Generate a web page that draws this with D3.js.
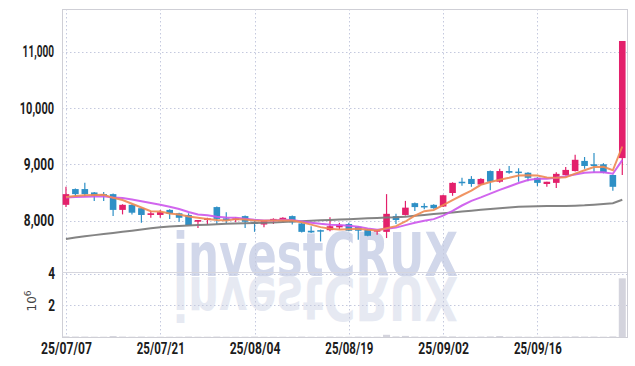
<!DOCTYPE html>
<html>
<head>
<meta charset="utf-8">
<script src="https://cdn.jsdelivr.net/npm/d3@7"></script>
<style>
  body { margin: 0; background: #fff; }
  svg text { font-family: Roboto, "DejaVu Sans Condensed", sans-serif; }
</style>
</head>
<body>
<div class="div-chart"></div>
<script>
// trading days shown (yy/mm/dd), 15 Aug is a holiday
const dates = [
  "25/07/07","25/07/08","25/07/09","25/07/10","25/07/11","25/07/14","25/07/15","25/07/16","25/07/17","25/07/18",
  "25/07/21","25/07/22","25/07/23","25/07/24","25/07/25","25/07/28","25/07/29","25/07/30","25/07/31","25/08/01",
  "25/08/04","25/08/05","25/08/06","25/08/07","25/08/08","25/08/11","25/08/12","25/08/13","25/08/14","25/08/18",
  "25/08/19","25/08/20","25/08/21","25/08/22","25/08/25","25/08/26","25/08/27","25/08/28","25/08/29","25/09/01",
  "25/09/02","25/09/03","25/09/04","25/09/05","25/09/08","25/09/09","25/09/10","25/09/11","25/09/12","25/09/15",
  "25/09/16","25/09/17","25/09/18","25/09/19","25/09/22","25/09/23","25/09/24","25/09/25","25/09/26","25/09/29"
];

const opens = [8280,8560,8560,8500,8470,8470,8190,8280,8220,8100, 8100,8190,8130,8100,7980,8010,8240,8040,8010,8080,
  7980,7930,8000,8010,8080,7950,7820,7830,7830,7880, 7940,7890,7840,7810,7800,8080,8100,8310,8260,8280,
  8250,8490,8690,8740,8640,8880,8690,8880,8870,8850, 8760,8650,8670,8810,8880,9060,9000,9000,8810,9110];
const highs = [8600,8570,8670,8510,8510,8480,8290,8290,8230,8170, 8190,8200,8140,8130,8010,8050,8250,8150,8060,8090,
  7990,8010,8040,8060,8090,7960,7900,7840,8060,7960, 7960,7900,7850,7840,8470,8120,8350,8320,8310,8290,
  8460,8680,8760,8790,8750,8890,8920,8970,8930,8860, 8770,8690,8860,8950,9170,9130,9200,9020,8820,11190];
const lows = [8240,8430,8430,8350,8350,8080,8110,8110,7960,8050, 8050,8030,7980,7920,7870,7920,7940,7950,7970,7870,
  7800,7880,7940,7980,7930,7790,7780,7630,7810,7850, 7810,7660,7720,7750,7690,7940,8090,8170,8200,8210,
  8240,8440,8620,8600,8630,8540,8670,8830,8690,8700, 8610,8600,8580,8800,8870,8920,8850,8840,8530,8810];
const closes = [8470,8470,8470,8440,8450,8190,8280,8140,8100,8130, 8150,8120,8050,7920,8010,8040,8030,8010,8040,7980,
  7940,8010,8030,8050,7970,7800,7790,7810,7900,7920, 7820,7820,7730,7830,8120,8010,8230,8240,8240,8220,
  8450,8670,8670,8650,8740,8690,8880,8850,8850,8760, 8670,8690,8830,8900,9080,8970,8970,8850,8600,11190];
// volume in millions of shares
const volumes = [0.04,0.03,0.03,0.02,0.02,0.06,0.03,0.02,0.03,0.02, 0.02,0.02,0.02,0.03,0.02,0.02,0.03,0.02,0.02,0.02,
  0.03,0.02,0.02,0.02,0.02,0.03,0.02,0.02,0.03,0.02, 0.02,0.03,0.02,0.02,0.14,0.04,0.07,0.03,0.02,0.02,
  0.04,0.04,0.02,0.02,0.03,0.04,0.06,0.02,0.03,0.02, 0.02,0.02,0.03,0.03,0.04,0.03,0.03,0.02,0.04,3.70];
// closes before the first visible day (estimated from where the averages start)
const priorCloses = [8380,8420,8390,8410,8400,8380,8420,8400,8430];
// 60 day average
const ma60 = [7675,7700,7722,7742,7762,7780,7800,7820,7840,7862, 7882,7895,7906,7914,7920,7928,7936,7942,7948,7953,
  7957,7962,7968,7975,7982,7990,7997,8004,8011,8018, 8025,8032,8040,8047,8053,8058,8070,8085,8100,8116,
  8130,8145,8160,8175,8192,8205,8218,8232,8245,8252, 8256,8257,8258,8260,8265,8272,8283,8295,8307,8370];

const priceTicks = [8000, 9000, 10000, 11000];
const volTicks = [2, 4];
const dateTicks = [0, 10, 20, 30, 40, 50];

const width = 635, height = 366;
const plotLeft = 62, plotRight = 627, plotTop = 9, plotMid = 272, plotBottom = 337;

const allCloses = priorCloses.concat(closes);
function movingAvg(n) {
  return closes.map((c, i) => d3.mean(allCloses.slice(i + priorCloses.length - n + 1, i + priorCloses.length + 1)));
}
const ma5 = movingAvg(5), ma10 = movingAvg(10);

const svg = d3.select(".div-chart").append("svg")
  .attr("width", width).attr("height", height)
  .attr("viewBox", `0 0 ${width} ${height}`);

const x = d3.scaleLinear().domain([-0.42, 59.5]).range([plotLeft, plotRight]);
const y = d3.scaleLinear().domain([7087, 11758]).range([plotMid, plotTop]);
const yVol = d3.scaleLinear().domain([0, 4.1]).range([plotBottom, plotMid]);

// watermark + its reflection
const wm = svg.append("g").attr("id", "watermark");
wm.append("text").attr("x", 173).attr("y", 276)
  .attr("textLength", 285).attr("lengthAdjust", "spacingAndGlyphs")
  .style("font-family", "'DejaVu Sans Condensed', sans-serif")
  .style("font-weight", "bold").style("font-size", "60px")
  .attr("fill", "#d1d7ea").text("investCRUX");
wm.append("text").attr("x", 173).attr("y", 276)
  .attr("transform", "translate(0,553) scale(1,-1)")
  .attr("textLength", 285).attr("lengthAdjust", "spacingAndGlyphs")
  .style("font-family", "'DejaVu Sans Condensed', sans-serif")
  .style("font-weight", "bold").style("font-size", "60px")
  .attr("fill", "#e6e9f2").text("investCRUX");

// grid
const grid = svg.append("g").attr("stroke", "#c4c9de").attr("stroke-dasharray", "1.5,2.5").attr("stroke-width", 1);
grid.selectAll(".gx").data(dateTicks).join("line")
  .attr("x1", d => Math.round(x(d)) + 0.5).attr("x2", d => Math.round(x(d)) + 0.5)
  .attr("y1", plotTop).attr("y2", plotBottom);
grid.selectAll(".gy").data(priceTicks).join("line")
  .attr("x1", plotLeft).attr("x2", plotRight)
  .attr("y1", d => Math.round(y(d)) + 0.5).attr("y2", d => Math.round(y(d)) + 0.5);
grid.selectAll(".gv").data(volTicks).join("line")
  .attr("x1", plotLeft).attr("x2", plotRight)
  .attr("y1", d => Math.round(yVol(d)) + 0.5).attr("y2", d => Math.round(yVol(d)) + 0.5);

// frame
const frame = svg.append("g").attr("fill", "none").attr("stroke", "#cfcfd6");
frame.append("rect").attr("x", plotLeft + 0.5).attr("y", plotTop + 0.5)
  .attr("width", plotRight - plotLeft).attr("height", plotBottom - plotTop);
frame.append("line").attr("x1", plotLeft).attr("x2", plotRight).attr("y1", plotMid + 0.5).attr("y2", plotMid + 0.5)
  .attr("stroke", "#d6d6de");

// volume bars
const barW = 7;
svg.append("g").selectAll("rect").data(volumes).join("rect")
  .attr("x", (d, i) => x(i) - barW / 2)
  .attr("y", d => yVol(d))
  .attr("width", barW)
  .attr("height", d => plotBottom - yVol(d))
  .attr("fill", "#d4d4dd");

// candles
const up = "#e3206b", down = "#2e90c6";
const candle = svg.append("g").selectAll("g").data(closes).join("g");
candle.append("line")
  .attr("x1", (d, i) => x(i)).attr("x2", (d, i) => x(i))
  .attr("y1", (d, i) => y(highs[i])).attr("y2", (d, i) => y(lows[i]))
  .attr("stroke", (d, i) => d >= opens[i] ? up : down).attr("stroke-width", 1.2);
candle.append("rect")
  .attr("x", (d, i) => x(i) - 3.3)
  .attr("y", (d, i) => y(Math.max(d, opens[i])))
  .attr("width", 6.6)
  .attr("height", (d, i) => Math.max(1.5, Math.abs(y(d) - y(opens[i]))))
  .attr("fill", (d, i) => d >= opens[i] ? up : down);

// moving averages
const line = d3.line().x((d, i) => x(i)).y(d => y(d));
svg.append("path").datum(ma60).attr("d", line).attr("fill", "none")
  .attr("stroke", "#7d7d7d").attr("stroke-width", 2).attr("opacity", 0.95);
svg.append("path").datum(ma10).attr("d", line).attr("fill", "none")
  .attr("stroke", "#cc55ec").attr("stroke-width", 2).attr("opacity", 0.9);
svg.append("path").datum(ma5).attr("d", line).attr("fill", "none")
  .attr("stroke", "#ee8a52").attr("stroke-width", 2).attr("opacity", 0.9);

// axes: tall narrow bold digits, squeezed to the reference widths
const charW = { "1": 4, ",": 3, "/": 5 };
const textW = s => d3.sum(s.split(""), ch => charW[ch] || 6.8);
const axisStyle = (g, size) => {
  g.select(".domain").remove();
  g.selectAll("text").attr("fill", "#1c1c1c")
    .style("font-weight", "bold").style("font-size", size + "px")
    .attr("lengthAdjust", "spacingAndGlyphs")
    .attr("textLength", function () { return textW(this.textContent); });
};
svg.append("g").attr("transform", `translate(${plotLeft},0)`)
  .call(d3.axisLeft(y).tickValues(priceTicks).tickFormat(d3.format(",")).tickSize(0).tickPadding(8))
  .call(axisStyle, 16);
svg.append("g").attr("transform", `translate(${plotLeft},0)`)
  .call(d3.axisLeft(yVol).tickValues(volTicks).tickFormat(d3.format("d")).tickSize(0).tickPadding(7))
  .call(axisStyle, 16);
svg.append("g").attr("transform", `translate(0,${plotBottom})`)
  .call(d3.axisBottom(x).tickValues(dateTicks).tickFormat(i => dates[i]).tickSize(0).tickPadding(5))
  .call(axisStyle, 16.5);

// volume unit label
const unit = svg.append("text").attr("transform", "translate(36,301) rotate(-90)")
  .attr("text-anchor", "middle").attr("fill", "#444")
  .style("font-family", "'DejaVu Sans', sans-serif").style("font-size", "12px");
unit.append("tspan").text("10");
unit.append("tspan").attr("dy", -5).style("font-size", "9px").text("6");
</script>
</body>
</html>
